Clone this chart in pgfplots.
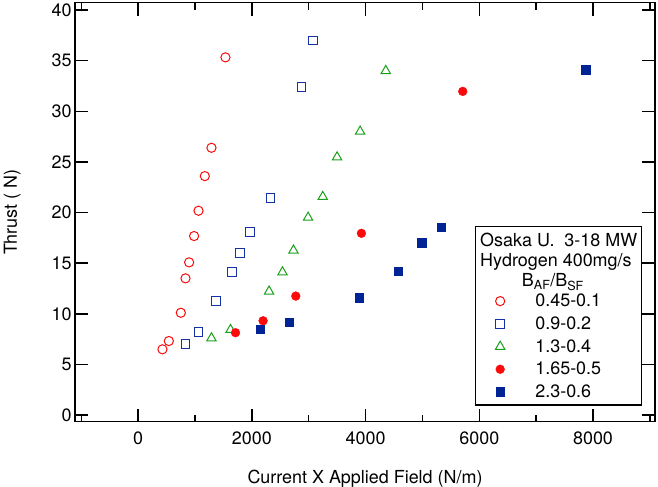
\documentclass[border=0pt]{standalone}
\usepackage{fontspec}
\setmainfont{TeX Gyre Heros}
\usepackage{pgfplots}
\pgfplotsset{compat=1.18}
\definecolor{cred}{RGB}{250,10,10}
\definecolor{cblue}{RGB}{20,50,165}
\definecolor{cnavy}{RGB}{0,35,150}
\definecolor{cgreen}{RGB}{25,160,25}
\newcommand{\ff}{\fontsize{18}{21}\selectfont}
\begin{document}
\begin{tikzpicture}
\useasboundingbox (-75bp,-65.3bp) rectangle (583bp,421.7bp);
\begin{axis}[at={(0,0)}, anchor=south west,
  scale only axis, width=580bp, height=419bp,
  xmin=-1110, xmax=9090, ymin=-0.66, ymax=40.73,
  xtick={0,2000,4000,6000,8000},
  minor xtick={-1000,1000,3000,5000,7000,9000},
  ytick={0,5,...,40},
  tick align=inside,
  major tick length=13bp, minor tick length=7bp,
  axis line style={line width=1.5bp},
  every tick/.style={black, line width=1.5bp},
  scaled x ticks=false,
  /pgf/number format/1000 sep={},
  /pgf/number format/assume math mode=true,
  tick label style={font=\ff},
  xticklabel style={yshift=-7bp},
  label style={font=\ff},
  xlabel={Current X Applied Field (N/m)},
  ylabel={Thrust ( N)},
  xlabel style={at={(axis description cs:0.5,-0.1463)}, anchor=base},
  ylabel style={at={(axis description cs:-0.1,0.5)}, anchor=base},
  legend style={at={(rel axis cs:0.7250,0.3047)}, anchor=north west,
    draw=none, fill=none, inner sep=0pt, outer sep=0pt, row sep=8.5bp,
    font=\ff,
    nodes={inner sep=0pt},
    /tikz/every odd column/.append style={column sep=30.5bp}},
  legend cell align=left,
]
\addplot[only marks, mark=o, mark size=4.6bp, mark options={draw=cred, line width=1bp}] coordinates {
(428,6.49) (540,7.31) (751,10.10) (833,13.50) (897,15.08) (984,17.68) (1062,20.18) (1173,23.60) (1290,26.40) (1536,35.33)};
\addlegendentry{0.45-0.1}
\addplot[only marks, mark=square, mark size=4.4bp, mark options={draw=cblue, line width=1bp}] coordinates {
(833,7.04) (1062,8.20) (1366,11.26) (1653,14.12) (1788,16.03) (1969,18.07) (2328,21.46) (2873,32.42) (3077,37.0)};
\addlegendentry{0.9-0.2}
\addplot[only marks, mark=triangle, mark size=5.4bp, mark options={draw=cgreen, line width=1bp}] coordinates {
(1290,7.59) (1625,8.42) (2303,12.21) (2539,14.11) (2732,16.26) (2989,19.51) (3247,21.56) (3499,25.47) (3904,28.01) (4355,34.00)};
\addlegendentry{1.3-0.4}
\addplot[only marks, mark=*, mark size=4.4bp, mark options={draw=cred, fill=cred, line width=0.4bp}] coordinates {
(1713,8.13) (2198,9.31) (2773,11.75) (3927,17.95) (5709,31.97)};
\addlegendentry{1.65-0.5}
\addplot[only marks, mark=square*, mark size=4.3bp, mark options={draw=cnavy, fill=cnavy, line width=0.4bp}] coordinates {
(2145,8.46) (2655,9.16) (3886,11.6) (4571,14.22) (4988,17.02) (5327,18.54) (7866,34.14)};
\addlegendentry{2.3-0.6}
\draw[line width=1.5bp] (rel axis cs:0.6909,0.0399) rectangle (rel axis cs:0.9771,0.4654);
\node[font=\ff, anchor=base west, inner sep=0pt] at (rel axis cs:0.6983,0.4177) {Osaka U.\ \ 3-18 MW};
\node[font=\ff, anchor=base west, inner sep=0pt] at (rel axis cs:0.6983,0.3699) {Hydrogen 400mg/s};
\node[font=\ff, anchor=base west, inner sep=0pt] at (rel axis cs:0.7702,0.3222) {B\textsubscript{AF}/B\textsubscript{SF}};
\end{axis}
\end{tikzpicture}
\end{document}
